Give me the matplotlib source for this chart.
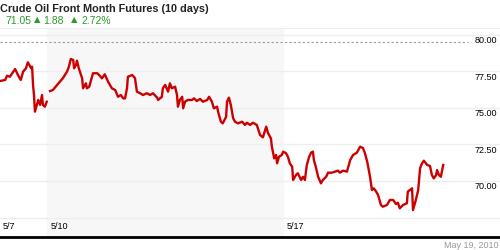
import matplotlib
matplotlib.use("Agg")
import matplotlib.pyplot as plt
import numpy as np

plt.rcParams['font.family'] = ['Liberation Sans', 'DejaVu Sans']

# datos: tiempo en dias de mercado desde 5/7, precio en USD
dias = [0.00, 0.11, 0.15, 0.21, 0.32, 0.38, 0.44, 0.49, 0.55, 0.59, 0.66, 0.68,
        0.70, 0.72, 0.74, 0.78, 0.81, 0.85, 0.89, 0.91, 0.95, 0.99, 1.02,
        1.06, 1.12, 1.21, 1.27, 1.33, 1.42, 1.46, 1.50, 1.55, 1.57, 1.61, 1.63,
        1.67, 1.74, 1.76, 1.82, 1.84, 1.89, 1.97, 2.06, 2.10, 2.16, 2.22, 2.29,
        2.37, 2.44, 2.50, 2.56, 2.61, 2.65, 2.69, 2.71, 2.80, 2.86, 2.90, 2.97,
        3.03, 3.11, 3.18, 3.24, 3.33, 3.35, 3.43, 3.45, 3.50, 3.56, 3.60, 3.64,
        3.71, 3.75, 3.77, 3.81, 3.86, 3.88, 3.92, 3.98, 4.07, 4.11, 4.17, 4.24,
        4.30, 4.39, 4.43, 4.49, 4.53, 4.60, 4.62, 4.68, 4.72, 4.79, 4.81, 4.85,
        4.89, 4.94, 4.98, 5.04, 5.13, 5.19, 5.23, 5.30, 5.36, 5.44, 5.51, 5.57,
        5.64, 5.68, 5.74, 5.76, 5.81, 5.85, 5.87, 5.91, 5.97, 6.00, 6.06, 6.10,
        6.14, 6.19, 6.21, 6.27, 6.31, 6.38, 6.42, 6.46, 6.50, 6.55, 6.59, 6.63,
        6.65, 6.69, 6.74, 6.80, 6.84, 6.91, 6.95, 7.03, 7.10, 7.16, 7.20, 7.27,
        7.35, 7.42, 7.48, 7.56, 7.63, 7.69, 7.73, 7.78, 7.84, 7.88, 7.92, 7.97,
        8.01, 8.07, 8.11, 8.20, 8.26, 8.33, 8.39, 8.43, 8.47, 8.54, 8.62, 8.64,
        8.73, 8.75, 8.81, 8.86, 8.90, 8.94, 8.98, 9.05, 9.11, 9.15, 9.19, 9.24,
        9.26, 9.30, 9.34, 9.39]
precios = [76.85, 76.92, 77.21, 77.14, 77.67, 77.26, 76.92, 77.49, 77.72, 78.13, 77.72, 77.83,
           76.58, 75.89, 74.75, 75.21, 75.55, 75.21, 75.89, 75.21, 75.09, 75.43, np.nan,
           76.16, 76.23, 76.58, 76.80, 77.03, 77.49, 77.83, 78.36, 78.29, 77.72, 77.95, 78.24,
           77.72, 77.03, 76.35, 76.69, 76.35, 76.46, 77.38, 77.38, 77.26, 77.03, 77.31, 76.80,
           76.35, 76.23, 75.77, 75.89, 75.66, 75.66, 76.35, 77.14, 77.26, 77.05, 76.12, 76.01,
           75.89, 76.01, 75.89, 76.01, 75.71, 75.55, 75.77, 76.35, 76.58, 76.12, 76.69, 76.35,
           76.46, 75.89, 75.09, 75.55, 75.77, 74.98, 75.43, 75.55, 75.55, 75.66, 75.48, 75.62,
           75.43, 75.55, 75.77, 75.43, 74.98, 75.09, 74.75, 74.06, 73.95, 74.40, 75.43, 75.71,
           75.21, 74.29, 74.06, 73.95, 74.06, 73.84, 73.99, 73.84, 73.99, 73.84, 73.15, 72.99,
           73.72, 73.27, 72.92, 72.35, 71.55, 71.78, 71.21, 71.66, 71.78, 72.01, 71.90, 71.66,
           71.21, 70.98, 70.07, 70.41, 70.53, 70.07, 70.29, 70.07, 71.10, 71.66, 71.94, 72.01,
           71.44, 70.98, 70.29, 69.84, 70.07, 70.29, 70.57, 70.57, 70.64, 70.71, 70.57, 70.71,
           70.64, 71.44, 71.78, 71.94, 72.35, 72.26, 71.92, 71.32, 70.29, 69.38, 69.50, 69.27,
           69.04, 68.36, 68.24, 68.36, 68.70, 68.70, 68.42, 68.51, 68.13, 68.36, 68.47, 69.27,
           69.50, 68.01, 68.70, 69.38, 70.87, 71.21, 71.39, 71.10, 71.03, 70.41, 70.18, 70.41,
           70.75, 70.41, 70.29, 71.10]

etiquetas_y = [70.0, 72.5, 75.0, 77.5, 80.0]
etiquetas_x = ["5/7", "5/10", "5/17"]
pos_x = [0.0, 1.0, 6.0]
linea_punteada = 79.52

titulo = "Crude Oil Front Month Futures (10 days)"
ultimo, cambio, cambio_pct = "71.05", "1.88", "2.72%"
fecha = "May 19, 2010"

px_dia = 47.2
fig = plt.figure(figsize=(5, 2.5), dpi=100)
ax = fig.add_axes([0, 13 / 250, 1, 209 / 250])
ax.set_xlim(0, 500 / px_dia)
ax.set_ylim(70 - 56 / 14.6, 80 + 7 / 14.6)
ax.axis("off")

# zona sombreada de la semana del 5/10
ax.axvspan(1.0, 6.0, color="#f7f7f7", zorder=0)

# lineas de la rejilla y bordes
for v in etiquetas_y:
    ax.axhline(v, color="#eeeeee", lw=1, zorder=1)
    ax.text(497 / px_dia, v - 0.08, f"{v:.2f}", ha="right", va="top",
            fontsize=6.5, color="black", zorder=3)
ax.axhline(80 + 7 / 14.6, color="#eeeeee", lw=1.5, zorder=1)
ax.axhline(70 - 37 / 14.6, color="#eeeeee", lw=1, zorder=1)
ax.plot([0, 468 / px_dia], [linea_punteada, linea_punteada], color="#999999",
        lw=0.8, ls=(0, (2, 2)), zorder=2)

ax.plot(dias, precios, color="#cc0000", lw=1.7, zorder=4)

for etq, p in zip(etiquetas_x, pos_x):
    ax.text(p + 3 / px_dia, 70 - 46 / 14.6, etq, ha="left", va="center",
            fontsize=6.5, color="black")

fig.add_artist(plt.Line2D([0, 1], [13 / 250, 13 / 250], color="black", lw=2))

fig.text(0.0, 1 - 9 / 250, titulo, fontsize=7.8, fontweight="bold",
         color="#222222", ha="left", va="center")
verde = "#2a9a2a"
fig.text(5 / 500, 1 - 21 / 250, ultimo, fontsize=7.5, color=verde, ha="left", va="center")
fig.text(34 / 500, 1 - 20 / 250, "▲", fontsize=6, color=verde, ha="left", va="center",
         family="DejaVu Sans")
fig.text(43 / 500, 1 - 21 / 250, cambio, fontsize=7.5, color=verde, ha="left", va="center")
fig.text(71 / 500, 1 - 20 / 250, "▲", fontsize=6, color=verde, ha="left", va="center",
         family="DejaVu Sans")
fig.text(81 / 500, 1 - 21 / 250, cambio_pct, fontsize=7.5, color=verde, ha="left", va="center")

fig.text(498 / 500, 1 - 245 / 250, fecha, fontsize=6.5, color="#999999",
         ha="right", va="center")

fig.savefig("out.png", dpi=100)
